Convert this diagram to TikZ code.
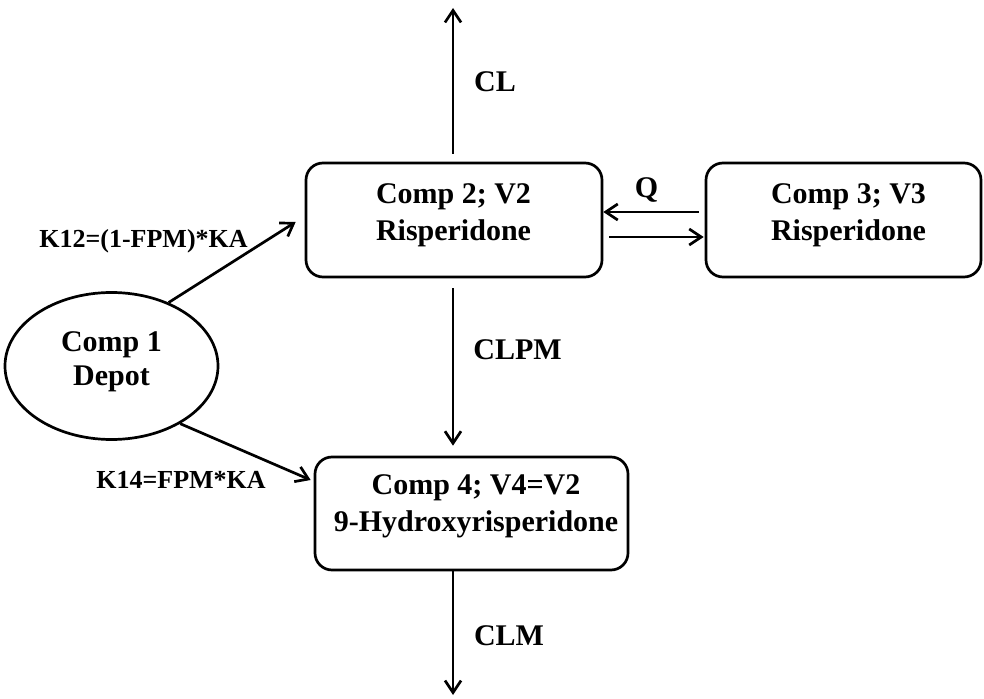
\documentclass[tikz,border=0pt]{standalone}
\usepackage{fontspec}
\setmainfont{Liberation Serif}
\usetikzlibrary{arrows.meta,shapes.geometric}
\begin{document}
\begin{tikzpicture}[x=0.5pt,y=-0.5pt,
  line width=1.35pt,
  box/.style={draw,rounded corners=8.5pt,inner sep=0pt},
  boxtext/.style={align=center,inner sep=0pt,
    font=\fontsize{15}{18.5}\selectfont\bfseries},
  arr/.style={-{Straight Barb[length=6pt,width=8pt,line width=1.35pt]}},
  lbl/.style={font=\fontsize{15}{18}\selectfont\bfseries,inner sep=0pt,anchor=base},
  klbl/.style={font=\fontsize{13}{15}\selectfont\bfseries,inner sep=0pt,anchor=base}]
\useasboundingbox (0,0) rectangle (984,699);
% compartments
\node[box,minimum width=148pt,minimum height=57pt] (c2) at (454,220) {};
\node[box,minimum width=137.5pt,minimum height=57pt] (c3) at (843.5,220) {};
\node[box,minimum width=156.5pt,minimum height=56.5pt] (c4) at (471.5,513.5) {};
\node[draw,ellipse,minimum width=106.5pt,minimum height=73.5pt,inner sep=0pt] (dep) at (111.5,366) {};
% compartment texts
\node[boxtext] (c2t) at (453.5,215) {Comp 2; V2\\Risperidone};
\node[boxtext] (c3t) at (848.5,215) {Comp 3; V3\\Risperidone};
\node[boxtext] (c4t) at (476,506) {Comp 4; V4=V2\\9-Hydroxyrisperidone};
\node[boxtext,font=\fontsize{15}{17}\selectfont\bfseries] (dept) at (111.5,362) {Comp 1\\Depot};
% free ends of elimination arrows
\coordinate (clend) at (453,8);
\coordinate (clmend) at (453,695);
% flows
\draw[arr,shorten <=4pt] (clend |- c2.north) -- (clend);
\draw[arr,shorten <=5pt,shorten >=5pt] (clend |- c2.south) -- (clend |- c4.north);
\draw[arr] (clmend |- c4.south) -- (clmend);
\draw[arr,shorten <=3pt] ([yshift=4pt]c3.west) -- ([yshift=4pt]c2.east);
\draw[arr,shorten <=3pt,shorten >=0.5pt] ([yshift=-8.5pt]c2.east) -- ([yshift=-8.5pt]c3.west);
\draw[arr] (dep.48.6) -- ([xshift=-4.5pt,yshift=-1pt]c2.west);
\draw[arr] (dep.-40.6) -- ([xshift=-1.5pt,yshift=16.75pt]c4.west);
% labels
\node[lbl] (lcl) at (495,92) {CL};
\node[lbl] (lq) at (646.5,198) {Q};
\node[lbl] (lclpm) at (517.5,360) {CLPM};
\node[lbl] (lclm) at (509,645) {CLM};
\node[klbl] (lk12) at (143.5,248) {K12=(1-FPM)*KA};
\node[klbl] (lk14) at (181,488) {K14=FPM*KA};
\end{tikzpicture}
\end{document}
